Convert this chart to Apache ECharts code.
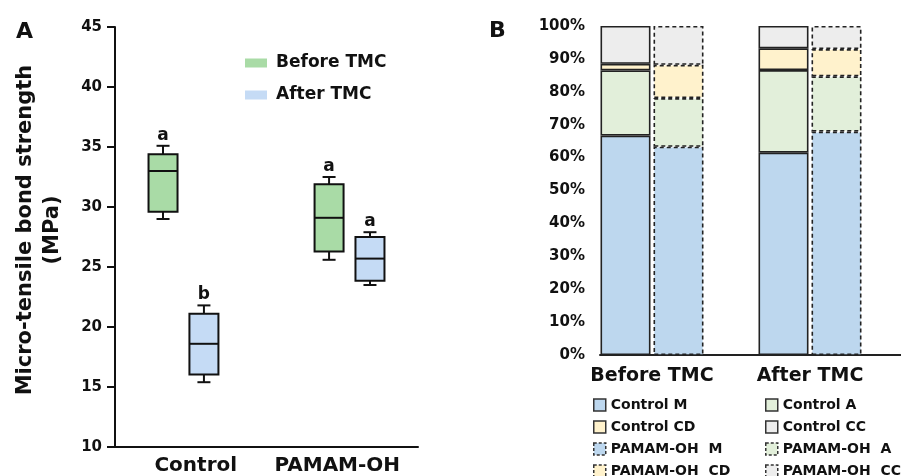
<!DOCTYPE html>
<html>
<head>
<meta charset="utf-8">
<script src="https://cdn.jsdelivr.net/npm/echarts@6/dist/echarts.min.js"></script>
<style>html,body{margin:0;padding:0;background:#fff}#c{width:901px;height:476px}</style>
</head>
<body>
<div id="c"></div>
<script>
// ---------- Panel A data (min, Q1, median, Q3, max) ----------
const categoriesA = ['Control', 'PAMAM-OH'];
const beforeTMC = [[29.0, 29.6, 33.0, 34.4, 35.1], [25.6, 26.3, 29.1, 31.9, 32.5]];
const afterTMC = [[15.4, 16.05, 18.6, 21.1, 21.8], [23.5, 23.85, 25.7, 27.5, 27.9]];
const lettersBefore = ['a', 'a'];
const lettersAfter = ['b', 'a'];
const yMinA = 10, yMaxA = 45, yStepA = 5;

// ---------- Panel B data (percent) ----------
const categoriesB = ['Before TMC', 'After TMC'];
const controlM = [66.7, 61.5];
const controlA = [19.8, 25.1];
const controlCD = [2.0, 6.6];
const controlCC = [11.5, 6.8];
const pamamM = [63.3, 67.9];
const pamamA = [14.8, 16.8];
const pamamCD = [10.1, 8.3];
const pamamCC = [11.8, 7.0];

const FONT = 'DejaVu Sans';
const INK = '#111';
const GREEN = '#a9dba6', BLUE = '#c5dbf5';
const cBlue = '#bdd7ee', cGreen = '#e2efda', cYellow = '#fff2cc', cGray = '#ededed';

function boxRenderer(color, letters, side) {
  return function (params, api) {
    const cat = api.value(0);
    const band = api.size([1, 0])[0];
    const catSide = cat === 0 ? -1 : 1;
    const cx = api.coord([cat, 0])[0] + (side * 0.135 + catSide * 0.048) * band;
    const y = k => api.coord([cat, api.value(k)])[1];
    const yMin = y(1), yQ1 = y(2), yMed = y(3), yQ3 = y(4), yMax = y(5);
    const bw = 29, cw = 13;
    const ls = { stroke: INK, lineWidth: 2 };
    return {
      type: 'group',
      children: [
        { type: 'line', shape: { x1: cx, y1: yMax, x2: cx, y2: yQ3 }, style: ls },
        { type: 'line', shape: { x1: cx, y1: yQ1, x2: cx, y2: yMin }, style: ls },
        { type: 'line', shape: { x1: cx - cw / 2, y1: yMax, x2: cx + cw / 2, y2: yMax }, style: ls },
        { type: 'line', shape: { x1: cx - cw / 2, y1: yMin, x2: cx + cw / 2, y2: yMin }, style: ls },
        { type: 'rect', shape: { x: cx - bw / 2, y: yQ3, width: bw, height: yQ1 - yQ3 },
          style: { fill: color, stroke: INK, lineWidth: 2 } },
        { type: 'line', shape: { x1: cx - bw / 2, y1: yMed, x2: cx + bw / 2, y2: yMed }, style: ls },
        { type: 'text', style: { text: letters[params.dataIndex], x: cx, y: yMax - 2,
          align: 'center', verticalAlign: 'bottom', font: 'bold 17px "' + FONT + '"', fill: INK } }
      ]
    };
  };
}

function barSeries(name, values, stack, color, dashed) {
  return {
    name: name, type: 'bar', stack: stack, xAxisIndex: 1, yAxisIndex: 1,
    barWidth: 50, barGap: '6%', data: values,
    itemStyle: { color: color, borderColor: '#222', borderWidth: 1.6,
      borderType: dashed ? [4, 3] : 'solid' },
    emphasis: { disabled: true }
  };
}

function legendItem(name, color, dashed) {
  return { name: name, itemStyle: { color: color, borderColor: '#333', borderWidth: 1.5,
    borderType: dashed ? [3, 2] : 'solid' } };
}

function legendB(left, items) {
  return {
    left: left, top: 397, height: 100, orient: 'vertical', icon: 'rect',
    itemWidth: 12, itemHeight: 12, itemGap: 6, selectedMode: false, padding: 0,
    textStyle: { fontSize: 14, fontWeight: 'bold', fontFamily: FONT, color: INK, lineHeight: 16 },
    data: items
  };
}

const chart = echarts.init(document.getElementById('c'), null, { renderer: 'canvas' });
chart.setOption({
  animation: false,
  textStyle: { fontFamily: FONT, color: INK, fontWeight: 'bold' },
  title: [
    { text: 'A', left: 11, top: 16, textStyle: { fontSize: 22, fontWeight: 'bold', color: INK, fontFamily: FONT } },
    { text: 'B', left: 484, top: 15, textStyle: { fontSize: 22, fontWeight: 'bold', color: INK, fontFamily: FONT } }
  ],
  legend: [
    {
      left: 240, top: 48, orient: 'vertical', icon: 'rect', itemWidth: 22, itemHeight: 9, itemGap: 12,
      selectedMode: false,
      textStyle: { fontSize: 17, fontWeight: 'bold', fontFamily: FONT, color: INK, lineHeight: 20, padding: [0, 0, 0, 4] },
      data: [
        { name: 'Before TMC', itemStyle: { color: GREEN, borderWidth: 0 } },
        { name: 'After TMC', itemStyle: { color: BLUE, borderWidth: 0 } }
      ]
    },
    legendB(593, [
      legendItem('Control M', cBlue, false),
      legendItem('Control CD', cYellow, false),
      legendItem('PAMAM-OH  M', cBlue, true),
      legendItem('PAMAM-OH  CD', cYellow, true)
    ]),
    legendB(765, [
      legendItem('Control A', cGreen, false),
      legendItem('Control CC', cGray, false),
      legendItem('PAMAM-OH  A', cGreen, true),
      legendItem('PAMAM-OH  CC', cGray, true)
    ])
  ],
  grid: [
    { left: 115, right: 483, top: 27, bottom: 25 },
    { left: 573, width: 316, top: 26, bottom: 121 },
    { left: 600, right: 0, top: 26, bottom: 121 }
  ],
  xAxis: [
    {
      type: 'category', gridIndex: 0, data: categoriesA,
      axisLine: { lineStyle: { color: INK, width: 2 } },
      axisTick: { show: false },
      axisLabel: {
        interval: 0, fontSize: 20, fontWeight: 'bold', color: INK, margin: 9, fontFamily: FONT,
        formatter: (v, i) => (i === 0 ? '{l|' : '{r|') + v + '}',
        rich: {
          l: { fontSize: 20, fontWeight: 'bold', color: INK, fontFamily: FONT, padding: [0, 0, 0, 10] },
          r: { fontSize: 20, fontWeight: 'bold', color: INK, fontFamily: FONT, padding: [0, 10, 0, 0] }
        }
      }
    },
    {
      type: 'category', gridIndex: 1, data: categoriesB,
      axisLine: { show: false }, axisTick: { show: false },
      axisLabel: { interval: 0, fontSize: 19, fontWeight: 'bold', color: INK, margin: 12, fontFamily: FONT }
    },
    {
      type: 'value', gridIndex: 2, min: 0, max: 1,
      axisLine: { show: true, lineStyle: { color: '#222', width: 2 } },
      axisTick: { show: false }, axisLabel: { show: false }, splitLine: { show: false }
    }
  ],
  yAxis: [
    {
      type: 'value', gridIndex: 0, min: yMinA, max: yMaxA, interval: yStepA,
      name: 'Micro-tensile bond strength\n(MPa)', nameLocation: 'middle', nameGap: 49,
      nameTextStyle: { fontSize: 21, fontWeight: 'bold', color: INK, lineHeight: 27, fontFamily: FONT, padding: [0, 0, 0, 14] },
      axisLine: { show: true, lineStyle: { color: INK, width: 2 } },
      axisTick: { show: true, length: 8, lineStyle: { color: INK, width: 2 } },
      splitLine: { show: false },
      axisLabel: { fontSize: 15, fontWeight: 'bold', color: INK, margin: 13, fontFamily: FONT }
    },
    { type: 'value', gridIndex: 1, min: 0, max: 100, show: false },
    {
      type: 'value', gridIndex: 2, min: 0, max: 100, interval: 10,
      axisLine: { show: false }, axisTick: { show: false }, splitLine: { show: false },
      axisLabel: { formatter: '{value}%', fontSize: 15, fontWeight: 'bold', color: INK, margin: 15, fontFamily: FONT }
    }
  ],
  series: [
    {
      name: 'Before TMC', type: 'custom', xAxisIndex: 0, yAxisIndex: 0,
      itemStyle: { color: GREEN },
      encode: { x: 0, y: [1, 2, 3, 4, 5] },
      data: beforeTMC.map((d, i) => [i].concat(d)),
      renderItem: boxRenderer(GREEN, lettersBefore, -1)
    },
    {
      name: 'After TMC', type: 'custom', xAxisIndex: 0, yAxisIndex: 0,
      itemStyle: { color: BLUE },
      encode: { x: 0, y: [1, 2, 3, 4, 5] },
      data: afterTMC.map((d, i) => [i].concat(d)),
      renderItem: boxRenderer(BLUE, lettersAfter, 1)
    },
    barSeries('Control M', controlM, 'control', cBlue, false),
    barSeries('Control A', controlA, 'control', cGreen, false),
    barSeries('Control CD', controlCD, 'control', cYellow, false),
    barSeries('Control CC', controlCC, 'control', cGray, false),
    barSeries('PAMAM-OH  M', pamamM, 'pamam', cBlue, true),
    barSeries('PAMAM-OH  A', pamamA, 'pamam', cGreen, true),
    barSeries('PAMAM-OH  CD', pamamCD, 'pamam', cYellow, true),
    barSeries('PAMAM-OH  CC', pamamCC, 'pamam', cGray, true)
  ]
});
</script>
</body>
</html>
